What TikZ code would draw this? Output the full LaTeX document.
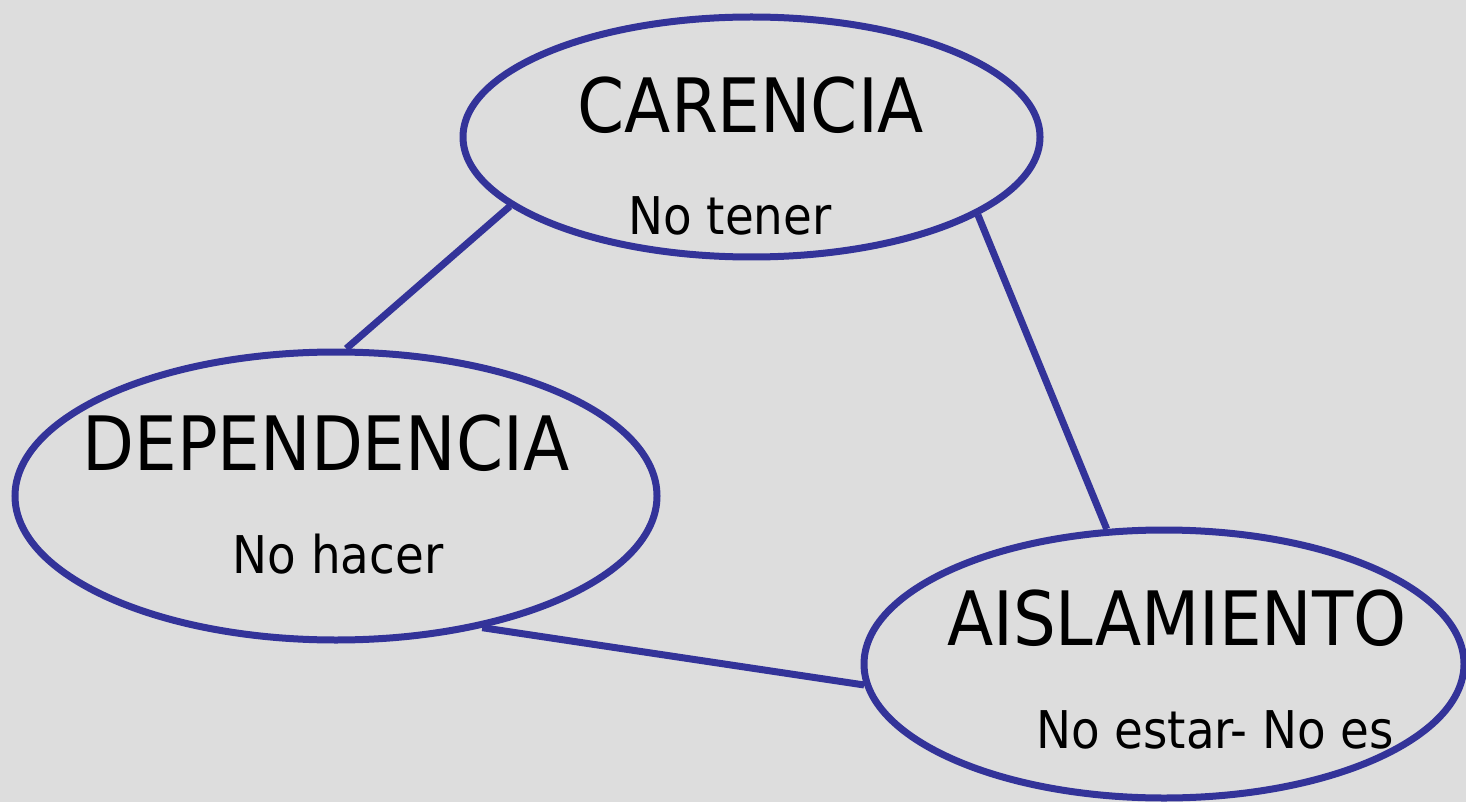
\documentclass[tikz,border=0pt]{standalone}
\usepackage{fontspec}
\setmainfont{DejaVu Sans Condensed}
\usetikzlibrary{shapes.geometric}
\definecolor{bg}{HTML}{DDDDDD}
\definecolor{edge}{HTML}{333399}
\tikzset{
  oval/.style={ellipse, draw=edge, line width=7pt, inner sep=0pt},
  big/.style={font=\fontsize{75}{80}\selectfont, inner sep=0pt, anchor=base},
  small/.style={font=\fontsize{52}{60}\selectfont, inner sep=0pt, anchor=base},
  link/.style={draw=edge, line width=7pt}
}
\begin{document}
\begin{tikzpicture}[x=1pt,y=-1pt]
\fill[bg] (0,0) rectangle (1466,802);
\useasboundingbox (0,0) rectangle (1466,802);
\node[oval, minimum width=577pt, minimum height=240pt] (car) at (751.5,137) {};
\node[oval, minimum width=642pt, minimum height=288pt] (dep) at (336,496) {};
\node[oval, minimum width=600pt, minimum height=268pt] (ais) at (1164,664) {};
\node[big] (t1) at (751,133) {CARENCIA};
\node[small] (s1) at (730,235) {No tener};
\node[big] (t2) at (326,470) {DEPENDENCIA};
\node[small] (s2) at (338,573) {No hacer};
\node[big] (t3) at (1177,645) {AISLAMIENTO};
\node[small] (s3) at (1215,748) {No estar- No es};
\draw[link] (car.196.8) -- (dep.86);
\draw[link] (car.341.5) -- (ais.113.8);
\draw[link] (dep.318) -- (ais.184.7);
\end{tikzpicture}
\end{document}
